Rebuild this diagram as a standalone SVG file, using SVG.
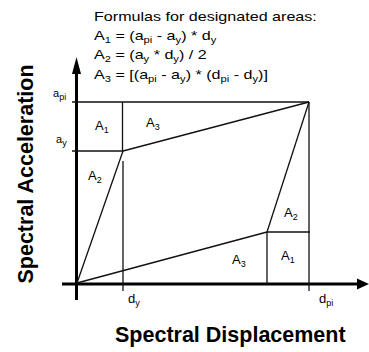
<svg xmlns="http://www.w3.org/2000/svg" width="369" height="352" viewBox="0 0 369 352">
<style>
.ax{stroke:#000;stroke-width:3;fill:none}
.ln{stroke:#111;stroke-width:1.3;fill:none}
.lt{stroke:#111;stroke-width:1.6;fill:none}
.f{font-family:"Liberation Sans",Arial,sans-serif;font-size:13px;fill:#000}
.s{font-size:9px}
.lab{font-family:"Liberation Sans",Arial,sans-serif;font-size:13px;fill:#000}
.big{font-family:"Liberation Sans",Arial,sans-serif;font-size:21.5px;font-weight:bold;fill:#000}
</style>
<rect width="369" height="352" fill="#fff"/>
<g id="formulas" transform="matrix(1.24 0 0 1 94 0)">
<text class="f" x="0" y="21">Formulas for designated areas:</text>
<text class="f" x="0" y="40">A<tspan class="s" dy="3">1</tspan><tspan dy="-3"> = (a</tspan><tspan class="s" dy="3">pi</tspan><tspan dy="-3"> - a</tspan><tspan class="s" dy="3">y</tspan><tspan dy="-3">) * d</tspan><tspan class="s" dy="3">y</tspan></text>
<text class="f" x="0" y="59">A<tspan class="s" dy="3">2</tspan><tspan dy="-3"> = (a</tspan><tspan class="s" dy="3">y</tspan><tspan dy="-3"> * d</tspan><tspan class="s" dy="3">y</tspan><tspan dy="-3">) / 2</tspan></text>
<text class="f" x="0" y="79">A<tspan class="s" dy="3">3</tspan><tspan dy="-3"> = [(a</tspan><tspan class="s" dy="3">pi</tspan><tspan dy="-3"> - a</tspan><tspan class="s" dy="3">y</tspan><tspan dy="-3">) * (d</tspan><tspan class="s" dy="3">pi</tspan><tspan dy="-3"> - d</tspan><tspan class="s" dy="3">y</tspan><tspan dy="-3">)]</tspan></text>
</g>
<g id="axes">
<line class="ax" x1="76.5" y1="72" x2="76.5" y2="300"/>
<polygon points="76.5,57 72,74 81,74" fill="#000"/>
<line class="ax" x1="62" y1="284" x2="358" y2="284"/>
<polygon points="369,284 357,278.5 357,289.5" fill="#000"/>
</g>
<g id="connectors">
<line class="lt" x1="72" y1="102" x2="309" y2="102"/>
<line class="lt" x1="72" y1="151" x2="123" y2="151"/>
<line class="ln" x1="122.5" y1="102" x2="122.5" y2="151"/>
<line class="ln" x1="123" y1="161" x2="123" y2="291"/>
<line class="ln" x1="77" y1="283" x2="123" y2="151"/>
<line class="ln" x1="123" y1="151" x2="309" y2="102"/>
<line class="ln" x1="309" y1="102" x2="309" y2="291"/>
<line class="ln" x1="77" y1="283" x2="267" y2="232"/>
<line class="ln" x1="267" y1="232" x2="309" y2="102"/>
<line class="ln" x1="267" y1="232" x2="310" y2="232"/>
<line class="ln" x1="267" y1="232" x2="267" y2="284"/>
</g>
<g id="labels">
<text class="lab" x="53" y="97" style="font-size:11px">a<tspan class="s" dy="3">pi</tspan></text>
<text class="lab" x="56" y="143" style="font-size:11px">a<tspan class="s" dy="3">y</tspan></text>
<text class="lab" x="128" y="303">d<tspan class="s" dy="3">y</tspan></text>
<text class="lab" x="319" y="303">d<tspan class="s" dy="3">pi</tspan></text>
<text class="lab" x="95" y="130">A<tspan class="s" dy="3">1</tspan></text>
<text class="lab" x="146" y="127">A<tspan class="s" dy="3">3</tspan></text>
<text class="lab" x="88" y="180">A<tspan class="s" dy="3">2</tspan></text>
<text class="lab" x="284" y="217">A<tspan class="s" dy="3">2</tspan></text>
<text class="lab" x="281" y="260">A<tspan class="s" dy="3">1</tspan></text>
<text class="lab" x="232" y="264">A<tspan class="s" dy="3">3</tspan></text>
<text class="big" x="115" y="342">Spectral Displacement</text>
<text class="big" x="33" y="174" text-anchor="middle" transform="rotate(-90 33 174)">Spectral Acceleration</text>
</g>
</svg>
